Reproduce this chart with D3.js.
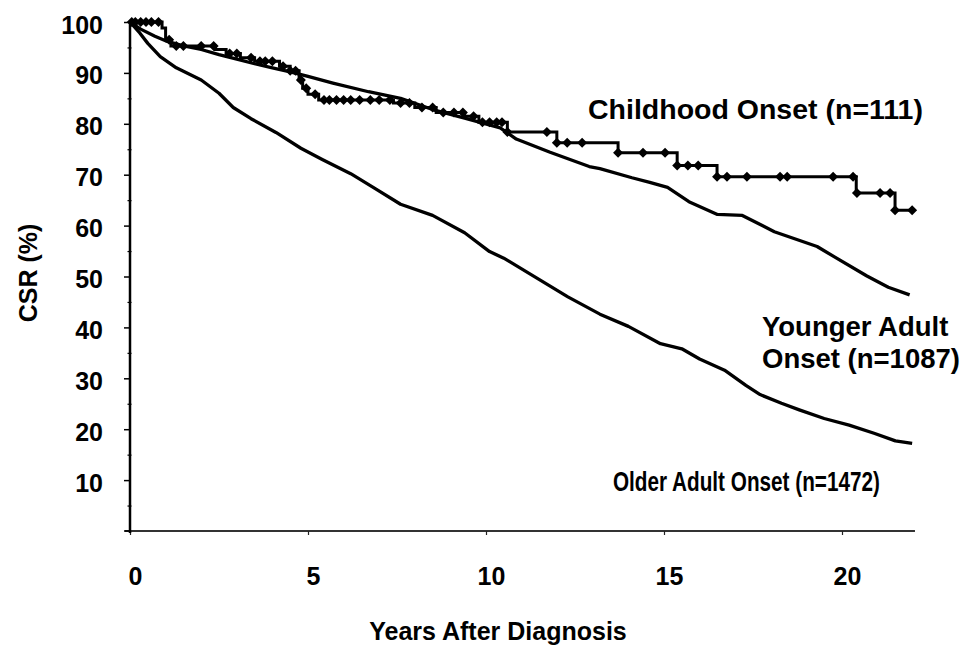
<!DOCTYPE html>
<html>
<head>
<meta charset="utf-8">
<script src="https://d3js.org/d3.v7.min.js"></script>
<style>
  body { margin: 0; background: #fff; }
  text { font-family: "Liberation Sans", Arial, sans-serif; font-weight: bold; fill: #000; }
</style>
</head>
<body>
<script>
// childhood onset: Kaplan-Meier steps + censor marks
const childTime = [0, 0.9, 1.0, 1.15, 2.4, 2.7, 3.1, 3.5, 4.2, 4.5, 4.75, 4.85, 5.0, 5.3, 7.4, 8.0, 8.6, 9.4, 9.8, 10.6, 11.99, 13.71, 15.37, 16.49, 20.4, 21.49, 21.97];
const childCsr  = [100, 98.8, 96.5, 95.3, 94.6, 93.8, 93.0, 92.3, 91.3, 90.4, 88.6, 87.0, 85.8, 84.7, 84.1, 83.2, 82.2, 81.5, 80.3, 78.4, 76.3, 74.3, 71.8, 69.6, 66.4, 63.0, 63.0];
const childCensor = [0.05, 0.15, 0.3, 0.45, 0.6, 0.8, 1.1, 1.3, 1.5, 2.0, 2.35, 2.8, 3.0, 3.4, 3.65, 3.8, 4.0, 4.3, 4.5, 4.65, 4.8, 4.95,
  5.2, 5.45, 5.6, 5.8, 6.0, 6.2, 6.45, 6.75, 7.0, 7.3, 7.6, 7.85, 8.2, 8.5, 8.8, 9.1, 9.35, 9.65, 9.9, 10.1, 10.3, 10.45, 10.6,
  11.71, 11.99, 12.28, 12.70, 13.71, 14.41, 15.03, 15.37, 15.67, 15.96, 16.49, 16.77, 17.33, 18.26, 18.46, 19.75, 20.31, 20.42,
  21.07, 21.35, 21.49, 21.97];

// younger adult onset
const youngTime = [0, 0.3, 0.7, 1.0, 1.5, 2.0, 2.5, 3.0, 3.5, 4.0, 4.5, 5.0, 5.7, 6.7, 7.6, 8.5, 9.4, 10.4, 10.85, 11.8, 12.9, 13.2, 14.1, 14.6, 15.1, 15.7, 16.5, 17.2, 18.1, 19.3, 19.8, 20.7, 21.3, 21.9];
const youngCsr  = [100, 98.6, 97.2, 96.3, 95.3, 94.6, 93.6, 92.7, 91.8, 91.0, 90.2, 89.3, 88.0, 86.3, 85.0, 82.8, 81.1, 79.2, 77.0, 74.4, 71.6, 71.2, 69.4, 68.5, 67.5, 64.7, 62.2, 62.0, 58.8, 55.9, 53.8, 50.1, 47.9, 46.4];

// older adult onset
const olderTime = [0, 0.28, 0.5, 0.85, 1.3, 2.0, 2.5, 2.9, 3.4, 4.1, 4.8, 5.4, 6.2, 6.9, 7.6, 8.5, 9.4, 10.1, 10.5, 11.5, 12.3, 13.2, 14.0, 14.9, 15.5, 16.0, 16.7, 17.3, 17.7, 18.3, 18.8, 19.5, 20.2, 20.9, 21.5, 21.97];
const olderCsr  = [100, 97.8, 95.8, 93.2, 91.0, 88.6, 86.0, 83.2, 81.0, 78.3, 75.2, 73.0, 70.2, 67.2, 64.2, 62.0, 58.6, 54.9, 53.6, 49.4, 46.0, 42.6, 40.2, 36.8, 35.8, 33.8, 31.6, 28.6, 26.8, 25.1, 23.8, 22.1, 20.8, 19.2, 17.7, 17.2];

const yTicks = [10, 20, 30, 40, 50, 60, 70, 80, 90, 100];
const yMinorTicks = [5, 15, 25, 35, 45, 55, 65, 75, 85, 95];
const xTicks = [0, 5, 10, 15, 20];
const seriesLabels = ["Childhood Onset (n=111)", "Younger Adult", "Onset (n=1087)", "Older Adult Onset (n=1472)"];

const width = 966, height = 646;
const svg = d3.select("body").append("svg")
  .attr("width", width)
  .attr("height", height);
svg.append("rect").attr("width", width).attr("height", height).attr("fill", "#fff");

const x = d3.scaleLinear().domain([0, 20]).range([130, 842]);
const y = d3.scaleLinear().domain([0, 100]).range([531, 22]);

// x axis
const xAxis = svg.append("g")
  .attr("transform", "translate(0," + y(0) + ")")
  .call(d3.axisBottom(x).tickValues(xTicks).tickSize(4).tickPadding(32).tickSizeOuter(0));
xAxis.select(".domain").attr("stroke", "#333").attr("stroke-width", 1.8)
  .attr("d", "M" + (x(0) - 5) + ",0H" + x(22.05));
xAxis.selectAll(".tick line").attr("stroke", "#222").attr("stroke-width", 1.2);
xAxis.selectAll(".tick text").attr("font-size", 25).attr("dx", 5)
  .attr("font-family", "Liberation Sans").attr("font-weight", "bold");

// y axis
const yMinor = svg.append("g")
  .attr("transform", "translate(" + (x(0) + 1.5) + ",0)")
  .call(d3.axisLeft(y).tickValues(yMinorTicks).tickSize(4).tickFormat(""));
yMinor.select(".domain").remove();
yMinor.selectAll(".tick line").attr("stroke", "#000").attr("stroke-width", 1.2);

const yAxis = svg.append("g")
  .attr("transform", "translate(" + x(0) + ",0)")
  .call(d3.axisLeft(y).tickValues(yTicks).tickSize(6).tickPadding(21).tickSizeOuter(0));
yAxis.select(".domain").attr("stroke", "#000").attr("stroke-width", 2.5)
  .attr("d", "M0," + (y(0) + 2) + "V" + y(100));
yAxis.selectAll(".tick line").attr("stroke", "#000").attr("stroke-width", 1.5);
yAxis.selectAll(".tick text").attr("font-size", 25).attr("y", 3)
  .attr("font-family", "Liberation Sans").attr("font-weight", "bold");
yAxis.append("line").attr("x1", -6).attr("x2", 0).attr("y1", y(0)).attr("y2", y(0))
  .attr("stroke", "#000").attr("stroke-width", 1.5);

// curves
const line = d3.line().x(d => x(d[0])).y(d => y(d[1]));
const stepLine = d3.line().x(d => x(d[0])).y(d => y(d[1])).curve(d3.curveStepAfter);

svg.append("path")
  .datum(d3.zip(olderTime, olderCsr))
  .attr("fill", "none").attr("stroke", "#000").attr("stroke-width", 3.3)
  .attr("stroke-linejoin", "round")
  .attr("d", line);

svg.append("path")
  .datum(d3.zip(youngTime, youngCsr))
  .attr("fill", "none").attr("stroke", "#000").attr("stroke-width", 3.3)
  .attr("stroke-linejoin", "round")
  .attr("d", line);

svg.append("path")
  .datum(d3.zip(childTime, childCsr))
  .attr("fill", "none").attr("stroke", "#000").attr("stroke-width", 3)
  .attr("d", stepLine);

// censor marks sit on the step function
const bis = d3.bisector(d => d).right;
function childAt(t) { return childCsr[Math.max(0, bis(childTime, t) - 1)]; }
svg.append("g").selectAll("path")
  .data(childCensor)
  .join("path")
  .attr("d", d3.symbol(d3.symbolSquare, 50))
  .attr("transform", d => "translate(" + x(d) + "," + y(childAt(d)) + ") rotate(45)")
  .attr("fill", "#000");

// labels
svg.append("text").text(seriesLabels[0]).attr("x", 588).attr("y", 119).attr("font-size", 28.5);
svg.append("text").text(seriesLabels[1]).attr("x", 762).attr("y", 336).attr("font-size", 27.5);
svg.append("text").text(seriesLabels[2]).attr("x", 762).attr("y", 368).attr("font-size", 27.5);
// narrower face in the original
svg.append("text").text(seriesLabels[3]).attr("font-size", 28)
  .attr("transform", "translate(613,491) scale(0.74,1)");

svg.append("text").text("Years After Diagnosis")
  .attr("x", 498).attr("y", 640).attr("text-anchor", "middle").attr("font-size", 25);
svg.append("text").text("CSR (%)")
  .attr("transform", "translate(37,273) rotate(-90)")
  .attr("text-anchor", "middle").attr("font-size", 25);
</script>
</body>
</html>
